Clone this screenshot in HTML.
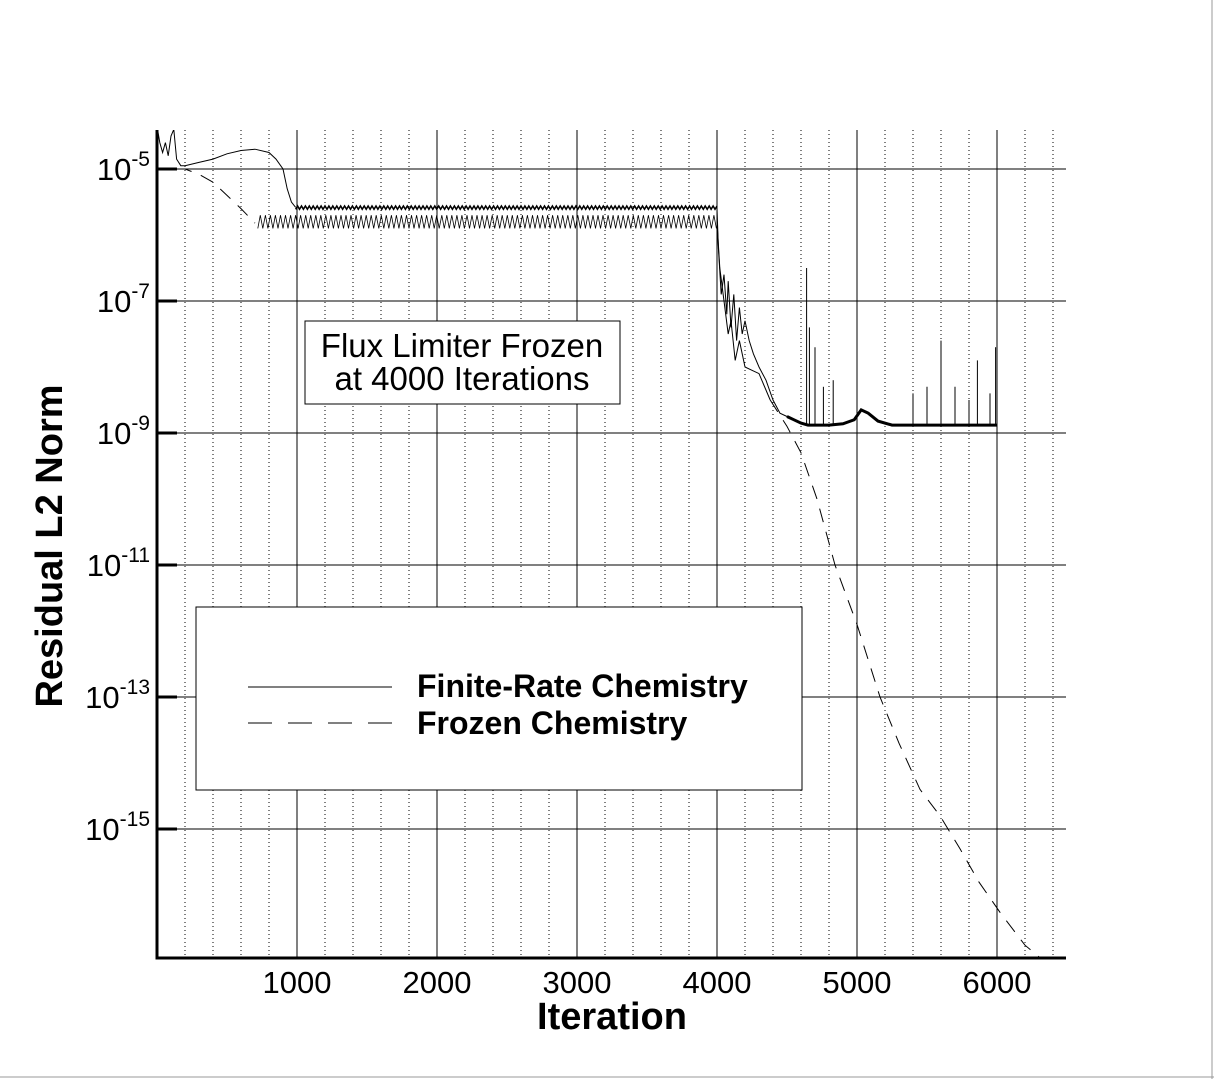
<!DOCTYPE html>
<html><head><meta charset="utf-8"><style>
html,body{margin:0;padding:0;background:#fff;}
svg{display:block;font-family:"Liberation Sans",sans-serif;}
</style></head><body>
<svg id="chart" width="1214" height="1079" viewBox="0 0 1214 1079" xmlns="http://www.w3.org/2000/svg">
<rect x="0" y="0" width="1214" height="1079" fill="#fff"/>
<line x1="1212" y1="0" x2="1212" y2="1079" stroke="#999" stroke-width="1"/>
<line x1="0" y1="1077" x2="1214" y2="1077" stroke="#999" stroke-width="1"/>
<defs><clipPath id="plotclip"><rect x="157" y="130" width="909" height="828"/></clipPath></defs>
<g id="grid"></g>
<g id="series" clip-path="url(#plotclip)"></g>
<g id="axes"></g>
<g>
<rect x="305" y="321" width="315" height="83" fill="#fff" stroke="#000" stroke-width="1"/>
<text x="462" y="357" font-size="33" text-anchor="middle">Flux Limiter Frozen</text>
<text x="462" y="390" font-size="33" text-anchor="middle">at 4000 Iterations</text>
</g>
<g>
<rect x="196" y="607" width="606" height="183" fill="#fff" stroke="#000" stroke-width="1"/>
<line x1="248" y1="687" x2="392" y2="687" stroke="#000" stroke-width="1"/>
<text x="417" y="697" font-size="32" font-weight="bold">Finite-Rate Chemistry</text>
<line x1="248" y1="723" x2="392" y2="723" stroke="#000" stroke-width="1" stroke-dasharray="24,16"/>
<text x="417" y="734" font-size="32" font-weight="bold">Frozen Chemistry</text>
</g>
<text x="612" y="1029" font-size="38" font-weight="bold" text-anchor="middle">Iteration</text>
<text transform="translate(62,546) rotate(-90)" font-size="38" font-weight="bold" text-anchor="middle">Residual L2 Norm</text>
</svg>
<script>
const xTicks=[1000,2000,3000,4000,5000,6000];
const yTickExps=[-5,-7,-9,-11,-13,-15];
const finiteEarly=[[0,-4.35],[20,-4.6],[40,-4.75],[60,-4.6],[80,-4.8],[100,-4.5],[120,-4.4],[140,-4.85],[170,-4.95],[200,-4.95],[300,-4.9],[400,-4.85],[500,-4.77],[600,-4.72],[700,-4.7],[800,-4.75],[850,-4.85],[900,-5.0],[930,-5.3],[960,-5.5],[990,-5.58]];
const finiteBand={start:990,end:4000,low:-5.61,high:-5.56};
const finiteLate=[[4000,-5.6],[4010,-6.2],[4030,-6.9],[4050,-6.6],[4070,-7.2],[4080,-6.7],[4100,-7.4],[4120,-6.9],[4140,-7.6],[4160,-7.1],[4180,-7.5],[4200,-7.3],[4230,-7.6],[4260,-7.8],[4300,-8.0],[4350,-8.2],[4400,-8.5],[4450,-8.7],[4500,-8.75],[4550,-8.8],[4600,-8.85],[4650,-8.88],[4700,-8.88],[4800,-8.88],[4900,-8.86],[4980,-8.8],[5030,-8.65],[5080,-8.7],[5150,-8.82],[5250,-8.88],[5400,-8.88],[6000,-8.88]];
const spikeIters=[4640,4660,4700,4760,4830,5400,5500,5600,5700,5800,5860,5950,5990,6000];
const spikePeaks=[-6.5,-7.4,-7.7,-8.3,-8.2,-8.4,-8.3,-7.6,-8.3,-8.5,-7.9,-8.4,-7.7,-7.7];
const frozenEarly=[[150,-5.0],[200,-5.0],[300,-5.08],[400,-5.2],[500,-5.4],[600,-5.6],[700,-5.82]];
const frozenBand={start:720,end:4000,low:-5.9,high:-5.7};
const frozenDrop=[[4000,-5.8],[4020,-6.5],[4050,-7.0],[4080,-7.5],[4100,-7.3],[4130,-7.9],[4160,-7.6],[4200,-8.0],[4250,-8.05],[4300,-8.1],[4380,-8.5]];
const frozenTail=[[4380,-8.5],[4500,-8.9],[4600,-9.3],[4714,-10],[4843,-11],[4930,-11.5],[5000,-11.9],[5164,-13],[5300,-13.7],[5450,-14.4],[5593,-14.8],[5736,-15.3],[5870,-15.8],[6021,-16.26],[6200,-16.76],[6307,-16.95]];

const X0=157,X1=1066,Y0=130,Y1=958;
const xs=v=>X0+v*0.14;
const ys=e=>169+(-5-e)*66;
const NS="http://www.w3.org/2000/svg";
function mk(tag,attrs,parent){const el=document.createElementNS(NS,tag);for(const k in attrs)el.setAttribute(k,attrs[k]);parent.appendChild(el);return el;}
const grid=document.getElementById('grid'),axes=document.getElementById('axes'),ser=document.getElementById('series');
for(let it=200;it<6500;it+=200){if(it%1000===0)continue;
 const l=mk('line',{x1:xs(it),y1:Y0,x2:xs(it),y2:Y1,stroke:'#000','stroke-width':1,'stroke-dasharray':'1,3'},grid);
 
 }
xTicks.forEach(t=>{
 const l=mk('line',{x1:xs(t),y1:Y0,x2:xs(t),y2:Y1,stroke:'#000','stroke-width':1},grid);
 
 
 const tx=mk('text',{x:xs(t),y:993,'font-size':31,'text-anchor':'middle'},axes);tx.textContent=t;
 
 
});
yTickExps.forEach(e=>{
 const l=mk('line',{x1:X0,y1:ys(e),x2:X1,y2:ys(e),stroke:'#000','stroke-width':1},grid);
 
 
 mk('line',{x1:X0,y1:ys(e),x2:X0+20,y2:ys(e),stroke:'#000','stroke-width':3},axes);
 const tx=mk('text',{x:150,y:ys(e)+11,'font-size':31,'text-anchor':'end'},axes);
 tx.innerHTML='10<tspan dy="-14" font-size="21">'+e+'</tspan>';
 
 
});
const fr=mk('path',{d:`M${X0} ${Y0}V${Y1}H${X1}`,fill:'none',stroke:'#000','stroke-width':3},axes);


function pts(a){return a.map(p=>xs(p[0]).toFixed(1)+','+ys(p[1]).toFixed(1)).join(' ');}
function band(b,step){const a=[];let k=0;for(let it=b.start;it<=b.end;it+=step,k++){a.push([it,k%2?b.high:b.low]);}return a;}
function line(a,name,dash,w){const p=mk('polyline',{points:pts(a),fill:'none',stroke:'#000','stroke-width':w||1,'stroke-dasharray':dash||'none'},ser);
 
 }
line(finiteEarly,'finite-rate-early');
line(band(finiteBand,14),'finite-rate-plateau',null,1.5);
line(finiteLate,'finite-rate-late');
line(finiteLate.filter(p=>p[0]>=4500),'finite-rate-floor',null,3);
spikeIters.forEach((it,i)=>{const s=mk('line',{x1:xs(it),y1:ys(-8.88),x2:xs(it),y2:ys(spikePeaks[i]),stroke:'#000','stroke-width':1},ser);
 
 });
line(frozenEarly,'frozen-early','14,10');
line(band(frozenBand,18),'frozen-plateau',null,0.8);
line(frozenDrop,'frozen-drop');
line(frozenTail,'frozen-tail','14,10');
</script>
</body></html>
